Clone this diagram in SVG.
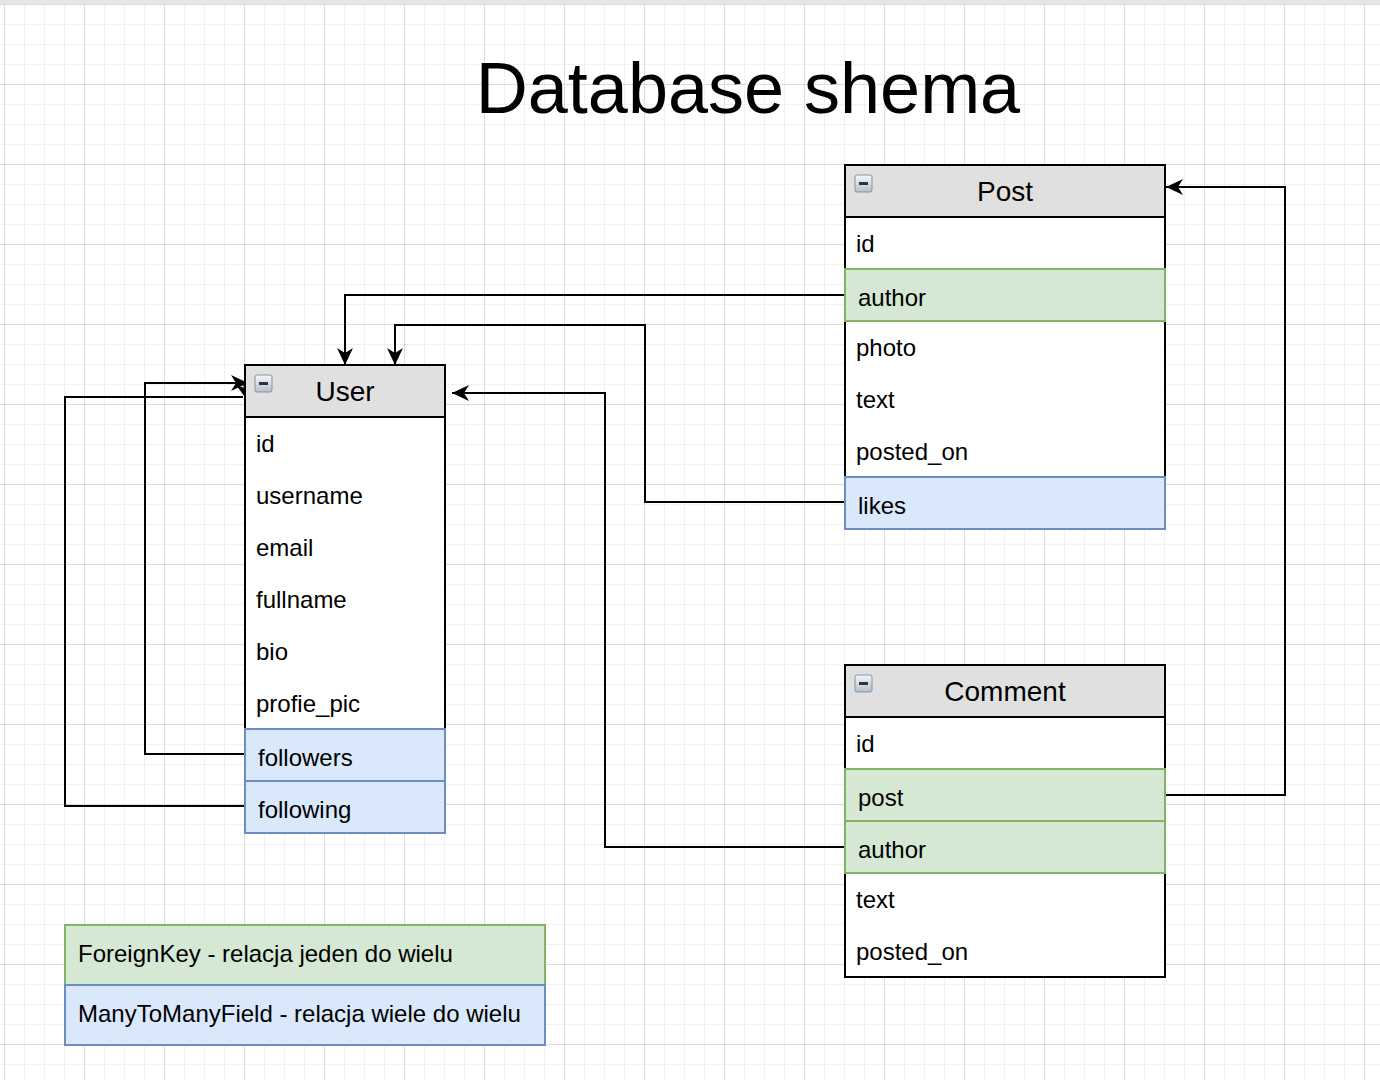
<svg xmlns="http://www.w3.org/2000/svg" width="1380" height="1080" viewBox="0 0 1380 1080">
<style>
.hdr{fill:#e0e0e0;stroke:#000;stroke-width:2}
.box{fill:#fff;stroke:#000;stroke-width:2}
.fk{fill:#d5e8d4;stroke:#82b366;stroke-width:2}
.m2m{fill:#dae8fc;stroke:#6c8ebf;stroke-width:2}
text{font-family:"Liberation Sans",Arial,sans-serif;fill:#000}
.f{font-size:24px}
.h{font-size:28px;text-anchor:middle}
.t{font-size:72px;text-anchor:middle}
.c{fill:none;stroke:#000;stroke-width:2}
</style>
<defs>
<pattern id="grid" x="4" y="4" width="80" height="80" patternUnits="userSpaceOnUse">
<rect x="0" y="0" width="80" height="80" fill="#fff"/>
<g fill="#f1f1f1">
<rect x="20" y="0" width="1" height="80"/><rect x="40" y="0" width="1" height="80"/><rect x="60" y="0" width="1" height="80"/>
<rect x="0" y="20" width="80" height="1"/><rect x="0" y="40" width="80" height="1"/><rect x="0" y="60" width="80" height="1"/>
</g>
<g fill="#dcdcdc">
<rect x="0" y="0" width="1" height="80"/><rect x="0" y="0" width="80" height="1"/>
</g>
</pattern>
<linearGradient id="ig" x1="0" y1="0" x2="0" y2="1">
<stop offset="0" stop-color="#f4f7fa"/><stop offset="1" stop-color="#b4c0cc"/>
</linearGradient>
<marker id="arr" markerWidth="18" markerHeight="18" refX="17" refY="8" orient="auto" markerUnits="userSpaceOnUse">
<path d="M0,0 L17,8 L0,16 L5,8 z" fill="#000"/>
</marker>
<g id="minus">
<rect x="0" y="0" width="17" height="17" rx="2" fill="url(#ig)" stroke="#8494a4" stroke-width="1"/>
<rect x="4" y="7" width="9" height="3" fill="#333"/>
</g>
</defs>
<rect x="0" y="0" width="1380" height="1080" fill="url(#grid)"/>
<rect x="0" y="0" width="1380" height="4" fill="#e6e6e6"/>

<text class="t" x="748" y="113">Database shema</text>

<g id="connectors">
<polyline class="c" points="845,295 345,295 345,365" marker-end="url(#arr)"/>
<polyline class="c" points="845,502 645,502 645,325 395,325 395,365" marker-end="url(#arr)"/>
<polyline class="c" points="845,847 605,847 605,393 452,393" marker-end="url(#arr)"/>
<polyline class="c" points="1165,795 1285,795 1285,187 1166,187" marker-end="url(#arr)"/>
<polyline class="c" points="245,754 145,754 145,383 248,383" marker-end="url(#arr)"/>
<polyline class="c" points="245,806 65,806 65,397 243,397" />
<line class="c" x1="244" y1="384" x2="247" y2="400" marker-end="url(#arr)"/>
</g>

<g id="user">
<rect class="box" x="245" y="365" width="200" height="468"/>
<rect class="hdr" x="245" y="365" width="200" height="52"/>
<use href="#minus" x="255" y="375"/>
<text class="h" x="345" y="401">User</text>
<text class="f" x="256" y="452">id</text>
<text class="f" x="256" y="504">username</text>
<text class="f" x="256" y="556">email</text>
<text class="f" x="256" y="608">fullname</text>
<text class="f" x="256" y="660">bio</text>
<text class="f" x="256" y="712">profie_pic</text>
<rect class="m2m" x="245" y="729" width="200" height="52"/>
<text class="f" x="258" y="766">followers</text>
<rect class="m2m" x="245" y="781" width="200" height="52"/>
<text class="f" x="258" y="818">following</text>
</g>

<g id="post">
<rect class="box" x="845" y="165" width="320" height="364"/>
<rect class="hdr" x="845" y="165" width="320" height="52"/>
<use href="#minus" x="855" y="175"/>
<text class="h" x="1005" y="201">Post</text>
<text class="f" x="856" y="252">id</text>
<rect class="fk" x="845" y="269" width="320" height="52"/>
<text class="f" x="858" y="306">author</text>
<text class="f" x="856" y="356">photo</text>
<text class="f" x="856" y="408">text</text>
<text class="f" x="856" y="460">posted_on</text>
<rect class="m2m" x="845" y="477" width="320" height="52"/>
<text class="f" x="858" y="514">likes</text>
</g>

<g id="comment">
<rect class="box" x="845" y="665" width="320" height="312"/>
<rect class="hdr" x="845" y="665" width="320" height="52"/>
<use href="#minus" x="855" y="675"/>
<text class="h" x="1005" y="701">Comment</text>
<text class="f" x="856" y="752">id</text>
<rect class="fk" x="845" y="769" width="320" height="52"/>
<text class="f" x="858" y="806">post</text>
<rect class="fk" x="845" y="821" width="320" height="52"/>
<text class="f" x="858" y="858">author</text>
<text class="f" x="856" y="908">text</text>
<text class="f" x="856" y="960">posted_on</text>
</g>

<g id="legend">
<rect class="fk" x="65" y="925" width="480" height="60"/>
<text class="f" x="78" y="962">ForeignKey - relacja jeden do wielu</text>
<rect class="m2m" x="65" y="985" width="480" height="60"/>
<text class="f" x="78" y="1022">ManyToManyField - relacja wiele do wielu</text>
</g>
</svg>
